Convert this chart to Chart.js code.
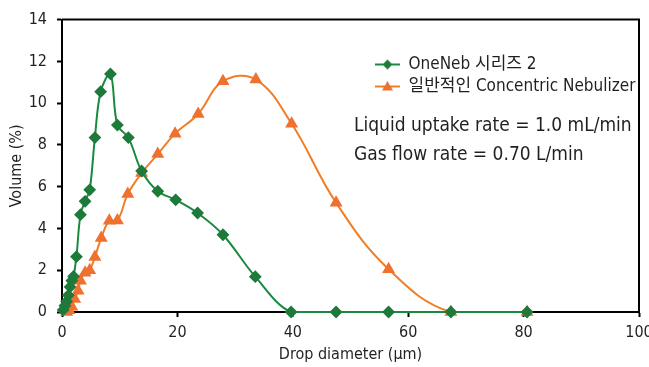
<!DOCTYPE html>
<html lang="ko">
<head>
  <meta charset="UTF-8" />
  <title>Drop size distribution</title>
  <script src="https://cdn.jsdelivr.net/npm/chart.js"></script>
  <style>
    body { margin: 0; background: #fff; }
    .wrap { position: relative; width: 649px; height: 367px; }
    .note {
      position: absolute; left: 354px; top: 110px;
      font-family: 'Liberation Sans Narrow', 'DejaVu Sans Condensed', 'Noto Sans CJK KR', sans-serif;
      font-size: 19px; line-height: 29px; color: #231f20; white-space: nowrap;
    }
  </style>
</head>
<body>
  <div class="wrap">
    <canvas id="dropChart"></canvas>
    <div class="note">Liquid uptake rate = 1.0 mL/min<br>Gas flow rate = 0.70 L/min</div>
  </div>

  <script>
    // values
    const seriesNames = ['OneNeb 시리즈 2', '일반적인 Concentric Nebulizer'];
    const greenX = [0.2, 0.5, 0.8, 1.1, 1.4, 1.7, 2.0, 2.5, 3.2, 4.0, 4.8, 5.7, 6.7, 8.4, 9.6, 11.5, 13.8, 16.6, 19.7, 23.5, 27.9, 33.5, 39.7, 47.5, 56.6, 67.4, 80.6];
    const greenY = [0.1, 0.3, 0.5, 0.8, 1.2, 1.5, 1.7, 2.65, 4.66, 5.3, 5.85, 8.35, 10.55, 11.4, 8.95, 8.35, 6.75, 5.78, 5.37, 4.74, 3.7, 1.69, 0, 0, 0, 0, 0];
    const orangeX = [0.8, 1.2, 1.7, 2.2, 2.8, 3.2, 4.0, 4.8, 5.7, 6.8, 8.2, 9.6, 11.4, 13.8, 16.6, 19.6, 23.6, 27.9, 33.6, 39.8, 47.5, 56.6, 67.4, 80.6];
    const orangeY = [0, 0.08, 0.25, 0.62, 1.02, 1.5, 1.88, 2.0, 2.63, 3.54, 4.37, 4.38, 5.65, 6.65, 7.56, 8.54, 9.48, 11.05, 11.13, 9.01, 5.23, 2.05, 0, 0];
    const xTicks = [0, 20, 40, 60, 80, 100];
    const yTicks = [0, 2, 4, 6, 8, 10, 12, 14];

    const FONT = "'Liberation Sans Narrow', 'DejaVu Sans Condensed', 'Noto Sans CJK KR', sans-serif";
    const INK = '#231f20';
    const GREEN = '#1a8a3e', GREEN_PT = '#1e7a3b';
    const ORANGE = '#f07e26', ORANGE_PT = '#ef7130';

    const toPoints = (xs, ys) => xs.map((x, i) => ({ x: x, y: ys[i] }));

    // little line + marker picture for the legend
    function swatch(lineColor, markColor, kind) {
      const c = document.createElement('canvas');
      c.width = 25; c.height = 14;
      const g = c.getContext('2d');
      g.strokeStyle = lineColor; g.lineWidth = 2;
      g.beginPath(); g.moveTo(0, 7); g.lineTo(25, 7); g.stroke();
      g.fillStyle = markColor;
      g.beginPath();
      if (kind === 'diamond') {
        g.moveTo(12.5, 2); g.lineTo(17.5, 7); g.lineTo(12.5, 12); g.lineTo(7.5, 7);
      } else {
        g.moveTo(12.5, 1.5); g.lineTo(18, 11); g.lineTo(7, 11);
      }
      g.closePath(); g.fill();
      return c;
    }
    const swatches = [swatch(GREEN, GREEN_PT, 'diamond'), swatch(ORANGE, ORANGE_PT, 'triangle')];

    // frame on top and right, legend moved into the plot
    const framePlugin = {
      id: 'frame',
      afterUpdate(chart) {
        const lg = chart.legend;
        if (!lg) return;
        const w = lg.width, h = lg.height;
        lg.left = 370; lg.top = 51;
        lg.right = lg.left + w; lg.bottom = lg.top + h;
      },
      afterDraw(chart) {
        const { ctx, chartArea: a } = chart;
        ctx.save();
        ctx.strokeStyle = '#000';
        ctx.lineWidth = 2;
        ctx.beginPath();
        ctx.moveTo(a.left, a.top);
        ctx.lineTo(a.right, a.top);
        ctx.lineTo(a.right, a.bottom);
        ctx.stroke();
        ctx.restore();
      }
    };

    const ctx = document.getElementById('dropChart').getContext('2d');
    const dropChart = new Chart(ctx, {
      type: 'line',
      data: {
        datasets: [{
          label: seriesNames[0],
          data: toPoints(greenX, greenY),
          borderColor: GREEN,
          backgroundColor: GREEN_PT,
          pointBackgroundColor: GREEN_PT,
          pointBorderColor: GREEN_PT,
          pointStyle: 'rectRot',
          pointRadius: 5,
          borderWidth: 2,
          tension: 0.35,
          clip: { left: 8, top: 8, right: 8, bottom: 7 }
        }, {
          label: seriesNames[1],
          data: toPoints(orangeX, orangeY),
          borderColor: ORANGE,
          backgroundColor: ORANGE_PT,
          pointBackgroundColor: ORANGE_PT,
          pointBorderColor: ORANGE_PT,
          pointStyle: 'triangle',
          pointRadius: 5.5,
          borderWidth: 2,
          tension: 0.4,
          clip: { left: 8, top: 8, right: 8, bottom: 7 }
        }]
      },
      options: {
        responsive: true,
        maintainAspectRatio: false,
        animation: false,
        layout: { padding: { left: 0, top: 15, right: 10, bottom: 0 } },
        plugins: {
          legend: {
            position: 'chartArea',
            align: 'start',
            labels: {
              usePointStyle: true,
              pointStyleWidth: 25,
              padding: 5,
              color: INK,
              font: { family: FONT, size: 17 },
              generateLabels: (chart) => chart.data.datasets.map((ds, i) => ({
                text: ds.label,
                pointStyle: swatches[i],
                fontColor: INK,
                strokeStyle: 'transparent',
                lineWidth: 0,
                datasetIndex: i
              }))
            }
          },
          tooltip: { enabled: false }
        },
        scales: {
          x: {
            type: 'linear',
            min: 0, max: 100,
            afterBuildTicks: (s) => { s.ticks = xTicks.map(v => ({ value: v })); },
            afterFit: (s) => { s.height = 55; s.paddingLeft = 0; s.paddingRight = 0; },
            grid: { drawOnChartArea: false, drawTicks: true, tickLength: 5, tickWidth: 2, tickColor: '#000' },
            border: { display: true, color: '#000', width: 2 },
            ticks: { color: INK, padding: 6, font: { family: FONT, size: 16 } },
            title: { display: true, text: 'Drop diameter (µm)', color: INK, padding: { top: 0, bottom: 3 }, font: { family: FONT, size: 16 } }
          },
          y: {
            min: 0, max: 14,
            afterBuildTicks: (s) => { s.ticks = yTicks.map(v => ({ value: v })); },
            afterFit: (s) => { s.width = 62; },
            grid: { drawOnChartArea: false, drawTicks: true, tickLength: 5, tickWidth: 2, tickColor: '#000' },
            border: { display: true, color: '#000', width: 2 },
            ticks: { color: INK, padding: 10, font: { family: FONT, size: 16 } },
            title: { display: true, text: 'Volume (%)', color: INK, padding: { top: 7, bottom: 0 }, font: { family: FONT, size: 16 } }
          }
        }
      },
      plugins: [framePlugin]
    });
  </script>
</body>
</html>
